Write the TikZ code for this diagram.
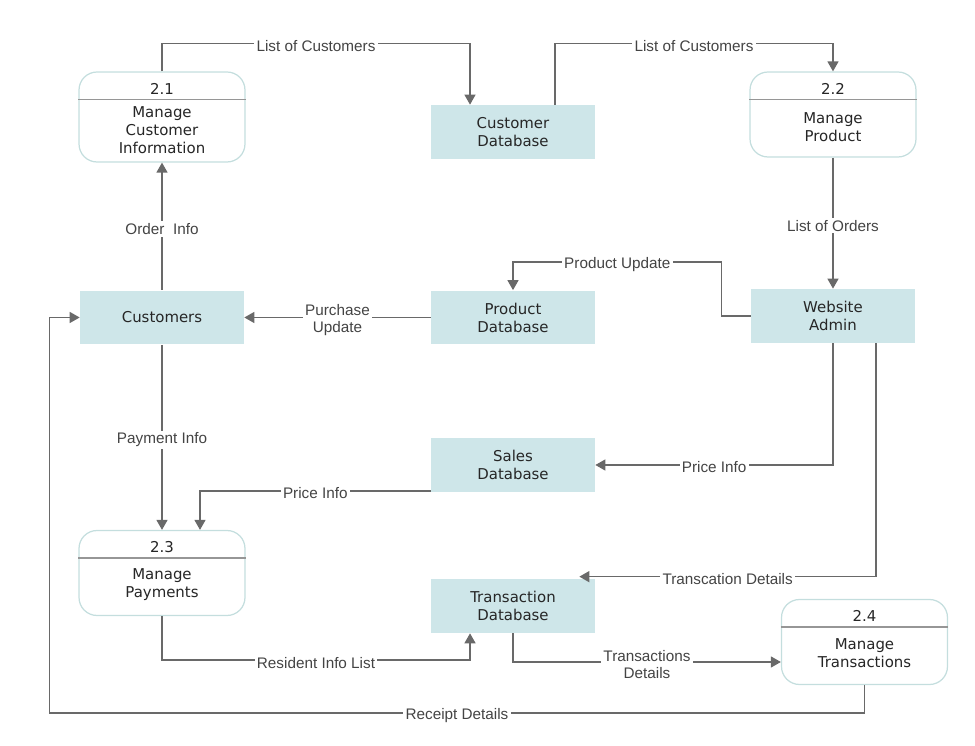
\documentclass[tikz,border=0pt]{standalone}
\usepackage{fontspec}
\setmainfont{DejaVu Sans}
\newfontfamily\lblfont{Liberation Sans}
\usetikzlibrary{arrows.meta,positioning}
\definecolor{storefill}{RGB}{206,230,233}
\definecolor{procline}{RGB}{196,222,222}
\definecolor{flowline}{RGB}{105,105,105}
\definecolor{lbltext}{RGB}{68,68,68}

\begin{document}
\begin{tikzpicture}[x=0.02cm,y=-0.02cm,
          store/.style={fill=storefill,minimum width=3.28cm,minimum height=1.08cm,
                        font=\fontsize{8.5}{10.2}\selectfont,text=black!85,align=center,inner sep=0pt},
          proc/.style={draw=procline,line width=0.7pt,fill=white,rounded corners=0.36cm,
                       minimum width=3.32cm,minimum height=1.7cm},
          num/.style={font=\fontsize{8.5}{10.2}\selectfont,text=black!85,inner sep=0pt},
          ptext/.style={font=\fontsize{8.5}{10.2}\selectfont,text=black!85,align=center,inner sep=0pt},
          divider/.style={draw=flowline!70,line width=0.7pt},
          flow/.style={draw=flowline,line width=0.8pt,-{Triangle[length=0.2cm,width=0.22cm]}},
          lbl/.style={fill=white,text=lbltext,font=\lblfont\fontsize{8.7}{9.8}\selectfont,
                      inner sep=1.2pt,align=center,yshift=-0.05cm}]
          \useasboundingbox (0,0) rectangle (975,746);

          % processes
          \node[proc,minimum height=1.8cm] (p_1) at (162,117) {};
          \node[proc] (p_2) at (833,114.5) {};
          \node[proc] (p_3) at (162,573) {};
          \node[proc] (p_4) at (864.5,642) {};
          \foreach \p/\n in {p_1/2.1,p_2/2.2,p_3/2.3,p_4/2.4}{
            \node[num] (\p_n) at ([yshift=-0.35cm]\p.north) {\n};
            \draw[divider] ([yshift=-0.56cm]\p.north west) -- ([yshift=-0.56cm]\p.north east);
          }
          \node[ptext] (p_1_t) at ([yshift=-1.18cm]p_1.north) {Manage\\Customer\\Information};
          \node[ptext] (p_2_t) at ([yshift=-1.11cm]p_2.north) {Manage\\Product};
          \node[ptext] (p_3_t) at ([yshift=-1.09cm]p_3.north) {Manage\\Payments};
          \node[ptext] (p_4_t) at ([yshift=-1.09cm]p_4.north) {Manage\\Transactions};

          % data stores and entities
          \node[store] (d_cust) at (513,132) {Customer\\Database};
          \node[store] (e_cust) at (162,317.5) {Customers};
          \node[store] (d_prod) at (513,317.5) {Product\\Database};
          \node[store] (e_admin) at (833,316) {Website\\Admin};
          \node[store] (d_sales) at (513,465) {Sales\\Database};
          \node[store] (d_trans) at (513,606) {Transaction\\Database};

          % top flows
          \draw[flow] (p_1.north) -- ++(0,-28) -| node[lbl,pos=0.25]{List of Customers} ([xshift=-0.86cm]d_cust.north);
          \draw[flow] ([xshift=0.84cm]d_cust.north) -- ++(0,-61) -| node[lbl,pos=0.25]{List of Customers} (p_2.north);
          \draw[flow] (p_2) -- node[lbl]{List of Orders} (e_admin);
          \draw[flow] (e_admin.west) -- ++(-29,0) -- ++(0,-54) -| node[lbl,pos=0.25]{Product Update} (d_prod.north);

          % customer flows
          \draw[flow] (d_prod) -- node[lbl]{Purchase\\Update} (e_cust);
          \draw[flow] (e_cust) -- node[lbl]{Order\ \ Info} (p_1);
          \draw[flow] (e_cust) -- node[lbl]{Payment Info} (p_3);
          \draw[flow] ([yshift=-0.52cm]d_sales.west) -| node[lbl,pos=0.25]{Price Info} ([xshift=0.76cm]p_3.north);

          % admin flows
          \draw[flow] (e_admin.south) |- node[lbl,pos=0.75]{Price Info} (d_sales.east);
          \draw[flow] ([xshift=0.86cm]e_admin.south) |- node[lbl,pos=0.75]{Transcation Details} ([xshift=-0.32cm,yshift=0.04cm]d_trans.north east);

          % bottom flows
          \draw[flow] (p_3.south) -- ++(0,44) -| node[lbl,pos=0.25]{Resident Info List} ([xshift=-0.86cm]d_trans.south);
          \draw[flow] (d_trans.south) |- node[lbl,pos=0.75]{Transactions\\Details} ([yshift=-0.4cm]p_4.west);
          \draw[flow] (p_4.south) -- ++(0,28) -- node[lbl]{Receipt Details} ++(-815,0) |- (e_cust.west);
        \end{tikzpicture}
\end{document}
